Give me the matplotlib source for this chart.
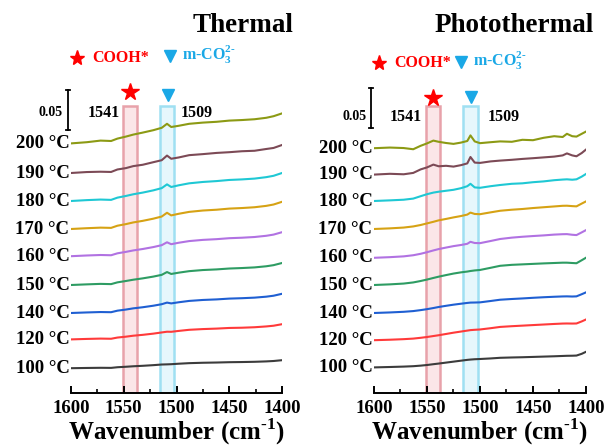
import matplotlib
matplotlib.use("Agg")
import matplotlib.pyplot as plt
from matplotlib.patches import Rectangle
from matplotlib.ticker import MultipleLocator

plt.rcParams["font.family"] = ["Liberation Serif", "DejaVu Serif"]
plt.rcParams["font.weight"] = "bold"
plt.rcParams["mathtext.fontset"] = "custom"
plt.rcParams["mathtext.rm"] = "Liberation Serif:bold"
plt.rcParams["mathtext.bf"] = "Liberation Serif:bold"

# ---- data -------------------------------------------------------------
temps = ["100 °C", "120 °C", "140 °C", "150 °C", "160 °C",
         "170 °C", "180 °C", "190 °C", "200 °C"]
colors = ["#3c3c3c", "#ff3a3a", "#1f5fd2", "#2e9c63", "#b172e2",
          "#d6a214", "#1fc8d4", "#7c4a56", "#8c9a14"]

# Thermal spectra (absorbance change relative to 1600 cm-1)
wn_thermal = [1600, 1585, 1572, 1562, 1556, 1548, 1541, 1532, 1522, 1514, 1509,
              1505, 1498, 1488, 1475, 1462, 1450, 1438, 1426, 1415, 1408, 1400]
thermal = [
    [0, .0003, .0005, .0004, .0012, .0018, .0024, .0030, .0038, .0046, .0048,
     .0050, .0056, .0063, .0068, .0071, .0075, .0077, .0080, .0085, .0090, .0100],
    [0, .0006, .0010, .0008, .0023, .0034, .0046, .0057, .0072, .0087, .0096,
     .0095, .0106, .0120, .0129, .0135, .0143, .0146, .0152, .0162, .0171, .0190],
    [0, .0007, .0012, .0010, .0029, .0043, .0058, .0072, .0091, .0110, .0130,
     .0120, .0134, .0151, .0163, .0170, .0180, .0185, .0192, .0204, .0216, .0240],
    [0, .0008, .0014, .0011, .0033, .0050, .0066, .0083, .0105, .0127, .0162,
     .0138, .0154, .0173, .0187, .0195, .0206, .0212, .0220, .0234, .0248, .0275],
    [0, .0009, .0015, .0012, .0036, .0054, .0072, .0090, .0114, .0138, .0174,
     .0150, .0168, .0189, .0204, .0213, .0225, .0231, .0240, .0255, .0270, .0300],
    [0, .0010, .0017, .0014, .0041, .0061, .0082, .0102, .0129, .0156, .0203,
     .0170, .0190, .0214, .0231, .0241, .0255, .0262, .0272, .0289, .0306, .0340],
    [0, .0011, .0018, .0014, .0042, .0063, .0084, .0105, .0133, .0161, .0208,
     .0175, .0196, .0221, .0238, .0249, .0263, .0270, .0280, .0298, .0315, .0350],
    [0, .0012, .0016, .0013, .0044, .0061, .0086, .0103, .0135, .0160, .0218,
     .0178, .0194, .0223, .0236, .0251, .0260, .0272, .0278, .0300, .0313, .0350],
    [0, .0015, .0035, .0030, .0060, .0085, .0110, .0135, .0165, .0195, .0245,
     .0205, .0220, .0245, .0260, .0270, .0285, .0292, .0302, .0320, .0340, .0375],
]
thermal_offsets = [0.031, 0.067, 0.100, 0.135, 0.171, 0.205, 0.240, 0.275, 0.312]

# Photothermal spectra
wn_photo = [1600, 1585, 1572, 1563, 1556, 1550, 1544, 1539, 1532, 1525, 1518, 1512,
            1509, 1505, 1500, 1490, 1481, 1470, 1460, 1450, 1440, 1430, 1422, 1418,
            1413, 1409, 1404, 1400]
photo = [
    [0, .0005, .0010, .0015, .0022, .0030, .0040, .0048, .0060, .0072, .0084, .0094,
     .0098, .0102, .0105, .0112, .0120, .0124, .0127, .0131, .0135, .0139, .0143, .0145,
     .0146, .0148, .0170, .0195],
    [0, .0006, .0013, .0020, .0030, .0040, .0052, .0062, .0078, .0094, .0108, .0120,
     .0126, .0130, .0134, .0150, .0166, .0175, .0182, .0189, .0196, .0203, .0208, .0209,
     .0208, .0209, .0235, .0259],
    [0, .0007, .0015, .0024, .0036, .0048, .0062, .0075, .0090, .0104, .0116, .0126,
     .0130, .0131, .0133, .0150, .0166, .0175, .0182, .0190, .0197, .0203, .0207, .0208,
     .0206, .0208, .0235, .0258],
    [0, .0008, .0018, .0032, .0050, .0068, .0088, .0104, .0124, .0143, .0158, .0168,
     .0175, .0182, .0188, .0215, .0240, .0252, .0258, .0264, .0270, .0275, .0279, .0279,
     .0275, .0272, .0310, .0341],
    [0, .0008, .0018, .0032, .0050, .0070, .0092, .0109, .0128, .0146, .0160, .0175,
     .0200, .0185, .0183, .0210, .0235, .0252, .0263, .0272, .0280, .0290, .0295, .0296,
     .0288, .0284, .0318, .0346],
    [0, .0008, .0018, .0032, .0050, .0070, .0090, .0108, .0126, .0145, .0162, .0180,
     .0205, .0188, .0185, .0208, .0228, .0241, .0250, .0262, .0272, .0282, .0290, .0291,
     .0286, .0283, .0318, .0345],
    [0, .0008, .0016, .0030, .0060, .0085, .0105, .0116, .0128, .0140, .0160, .0185,
     .0215, .0170, .0165, .0185, .0200, .0215, .0221, .0235, .0245, .0260, .0268, .0271,
     .0266, .0271, .0305, .0338],
    [0, .0010, .0004, .0021, .0065, .0090, .0125, .0104, .0110, .0100, .0118, .0140,
     .0220, .0150, .0146, .0165, .0175, .0185, .0196, .0205, .0215, .0225, .0240, .0265,
     .0240, .0229, .0270, .0313],
    [0, .0008, .0002, -.0013, .0030, .0060, .0095, .0080, .0065, .0054, .0070, .0090,
     .0160, .0085, .0063, .0075, .0085, .0080, .0105, .0100, .0130, .0150, .0140, .0180,
     .0150, .0145, .0180, .0208],
]
photo_offsets = [0.032, 0.066, 0.100, 0.135, 0.169, 0.205, 0.240, 0.273, 0.306]

cooh_band = (1550.5, 1537.5)
mco3_band = (1516.0, 1502.0)
cooh_peak, mco3_peak = "1541", "1509"

# ---- figure -----------------------------------------------------------
fig = plt.figure(figsize=(6.08, 4.47), dpi=100)
RED = "#ff0000"
BLUE = "#1aa8e6"


def panel(rect, wn, spectra, offsets, title, layout):
    ax = fig.add_axes(rect)
    ax.set_xlim(1600, 1400)
    ax.set_ylim(0, 0.49125)
    for s in ["left", "right", "top"]:
        ax.spines[s].set_visible(False)
    ax.spines["bottom"].set_linewidth(1.4)
    ax.set_yticks([])
    ax.xaxis.set_major_locator(MultipleLocator(50))
    ax.xaxis.set_minor_locator(MultipleLocator(25))
    ax.tick_params(axis="x", which="major", direction="in", length=5, width=1.4,
                   labelsize=13.5, pad=5)
    ax.tick_params(axis="x", which="minor", direction="in", length=3, width=1.2)
    for lab in ax.get_xticklabels():
        lab.set_fontweight("bold")
    ax.set_xlabel(r"Wavenumber (cm$^{\text{-1}}$)", fontsize=18, fontweight="bold",
                  labelpad=0)

    # highlighted bands
    band_top = 0.359
    ax.add_patch(Rectangle((cooh_band[1], 0), cooh_band[0] - cooh_band[1], band_top,
                           facecolor="#fbe6e8", edgecolor="#e8a2aa", lw=1.8, zorder=1))
    ax.add_patch(Rectangle((mco3_band[1], 0), mco3_band[0] - mco3_band[1], band_top,
                           facecolor="#e6f7fc", edgecolor="#9fe0f2", lw=1.8, zorder=1))

    # spectra
    for y, off, c, t in zip(spectra, offsets, colors, temps):
        ax.plot(wn, [v + off for v in y], color=c, lw=1.5, zorder=3)
        ax.text(1601.5, off, t, ha="right", va="center", fontsize=13.5,
                fontweight="bold", clip_on=False)

    # scale bar (x axis is reversed: larger wavenumber sits further left)
    sb_x, sb_top = layout["sb"]
    ax.plot([sb_x, sb_x], [sb_top - 0.05, sb_top], color="black", lw=1.3,
            clip_on=False)
    for yy in (sb_top - 0.05, sb_top):
        ax.plot([sb_x - 2, sb_x + 2], [yy, yy], color="black", lw=1.3, clip_on=False)
    ax.text(sb_x + 4.5, layout["sb_text"], "0.05", ha="right", va="center",
            fontsize=10, fontweight="bold", clip_on=False)

    # peak positions
    ax.text(layout["p1"][0], layout["p1"][1], cooh_peak, ha="center", va="center",
            fontsize=11.5, fontweight="bold")
    ax.text(layout["p2"][0], layout["p2"][1], mco3_peak, ha="center", va="center",
            fontsize=11.5, fontweight="bold")
    ax.plot(*layout["star"], marker="*", ms=13, color=RED, clip_on=False)
    ax.plot(*layout["tri"], marker="v", ms=9, color=BLUE, clip_on=False)

    # species key
    ax.plot(*layout["key_star"], marker="*", ms=11, color=RED, clip_on=False)
    ax.text(layout["key_star"][0] - 14, layout["key_star"][1], "COOH*", color=RED,
            ha="left", va="center", fontsize=11.5, fontweight="bold")
    ax.plot(*layout["key_tri"], marker="v", ms=8.5, color=BLUE, clip_on=False)
    ax.text(layout["key_tri"][0] - 11, layout["key_tri"][1] + 0.002,
            r"m-CO$_3^{\text{2-}}$", color=BLUE, ha="left", va="center", fontsize=11.5)

    ax.text(layout["title"][0], layout["title"][1], title, ha="center", va="center",
            fontsize=19.5, fontweight="bold")
    return ax


panel([71 / 608, 54 / 447, 211 / 608, 393 / 447], wn_thermal, thermal,
      thermal_offsets, "Thermal",
      dict(sb=(1603.0, 0.379), sb_text=0.350, p1=(1568.5, 0.350), p2=(1480.5, 0.350),
           star=(1544, 0.376), tri=(1508, 0.373), key_star=(1594, 0.419),
           key_tri=(1506, 0.421), title=(1437, 0.460)))

panel([374 / 608, 54 / 447, 212 / 608, 393 / 447], wn_photo, photo,
      photo_offsets, "Photothermal",
      dict(sb=(1602.5, 0.381), sb_text=0.345, p1=(1570, 0.345), p2=(1478, 0.345),
           star=(1544.3, 0.369), tri=(1508.8, 0.370), key_star=(1595, 0.4125),
           key_tri=(1518, 0.4135), title=(1468, 0.460)))

fig.savefig("out.png", dpi=100)
